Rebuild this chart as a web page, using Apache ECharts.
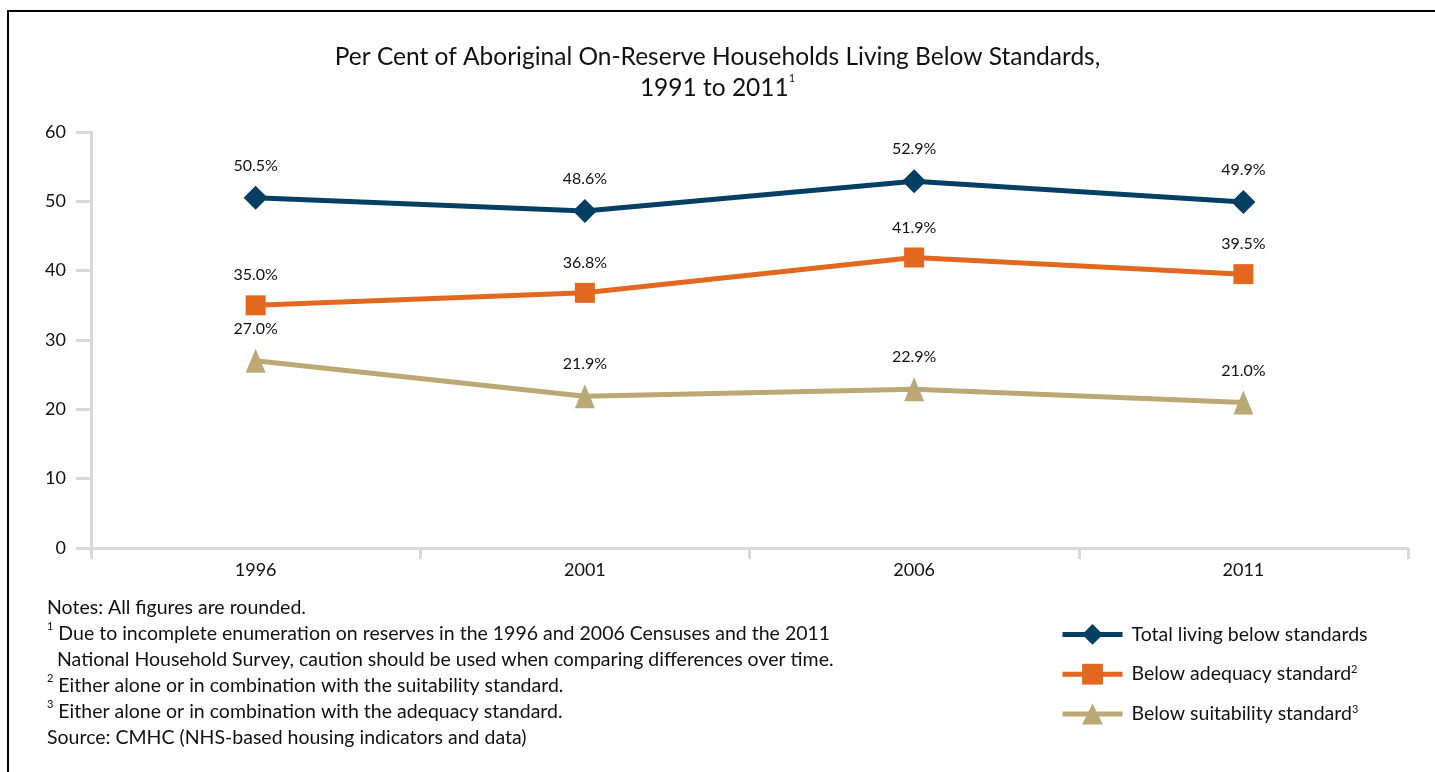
<!DOCTYPE html>
<html><head><meta charset="utf-8">
<script src="https://cdn.jsdelivr.net/npm/echarts@6/dist/echarts.min.js"></script>
<style>html,body{margin:0;padding:0;background:#fff;}#c{width:1435px;height:772px;}</style>
</head><body><div id="c"></div>
<script>
const years = ['1996', '2001', '2006', '2011'];
const totalBelow = [50.5, 48.6, 52.9, 49.9];
const belowAdequacy = [35.0, 36.8, 41.9, 39.5];
const belowSuitability = [27.0, 21.9, 22.9, 21.0];
const yTicks = [0, 10, 20, 30, 40, 50, 60];
const seriesNames = ['Total living below standards', 'Below adequacy standard', 'Below suitability standard'];
const seriesSup = ['', '2', '3'];

const FONT = 'Lato, "Open Sans", sans-serif';
const colors = ['#023F62', '#E2681F', '#BBA874'];
const symbols = ['diamond', 'rect', 'triangle'];
const symbolSizes = [[24, 24], [20, 20], [20, 24]];

const chart = echarts.init(document.getElementById('c'));
const dataSets = [totalBelow, belowAdequacy, belowSuitability];

const notes = [
  [{t:'Notes: All figures are rounded.'}],
  [{sup:'1'}, {t:' Due to incomplete enumeration on reserves in the 1996 and 2006 Censuses and the 2011'}],
  [{t:'  National Household Survey, caution should be used when comparing differences over time.'}],
  [{sup:'2'}, {t:' Either alone or in combination with the suitability standard.'}],
  [{sup:'3'}, {t:' Either alone or in combination with the adequacy standard.'}],
  [{t:'Source: CMHC (NHS-based housing indicators and data)'}]
];
const noteText = notes.map(line => line.map(p => p.sup ? '{s|' + p.sup + '}' : '{n|' + p.t + '}').join('')).join('\n');

chart.setOption({
  animation: false,
  backgroundColor: '#fff',
  title: {
    text: 'Per Cent of Aboriginal On-Reserve Households Living Below Standards,\n1991 to 2011{s|1}',
    left: 'center', top: 37,
    textStyle: {
      fontFamily: FONT, fontSize: 24.5, fontWeight: 'normal', color: '#111', lineHeight: 31,
      rich: { s: { fontFamily: FONT, fontSize: 11, verticalAlign: 'top', color: '#111', lineHeight: 31, padding: [0,0,12,0] } }
    }
  },
  grid: { left: 91, right: 27, top: 132, bottom: 224 },
  xAxis: {
    type: 'category', data: years, boundaryGap: true,
    axisLine: { lineStyle: { color: '#d9d9d9', width: 3 } },
    axisTick: { show: true, length: 11, alignWithLabel: false, lineStyle: { color: '#d9d9d9', width: 3 } },
    axisLabel: { fontFamily: FONT, fontSize: 18, color: '#111', margin: 13 },
    splitLine: { show: false }
  },
  yAxis: {
    type: 'value', min: 0, max: 60, interval: 10,
    axisLine: { show: true, lineStyle: { color: '#d9d9d9', width: 3 } },
    axisTick: { show: true, length: 15, lineStyle: { color: '#d9d9d9', width: 3 } },
    axisLabel: { fontFamily: FONT, fontSize: 18, color: '#111', margin: 25,
      formatter: v => yTicks.includes(v) ? String(v) : '' },
    splitLine: { show: false }
  },
  legend: {
    orient: 'vertical', left: 1055, top: 619, itemGap: 19, itemWidth: 60, itemHeight: 26,
    data: seriesNames,
    lineStyle: { width: 5 },
    formatter: name => {
      const i = seriesNames.indexOf(name);
      return '{n|' + name + '}' + (seriesSup[i] ? '{s|' + seriesSup[i] + '}' : '');
    },
    textStyle: {
      fontFamily: FONT, fontSize: 19.5, color: '#111', padding: [0,0,0,4],
      rich: {
        n: { fontFamily: FONT, fontSize: 19.5, color: '#111' },
        s: { fontFamily: FONT, fontSize: 11, color: '#111', verticalAlign: 'top', padding: [0,0,9,0] }
      }
    }
  },
  graphic: [
    { type: 'line', shape: { x1: 7, y1: 11, x2: 1435, y2: 11 }, style: { stroke: '#000', lineWidth: 2 } },
    { type: 'line', shape: { x1: 8, y1: 11, x2: 8, y2: 772 }, style: { stroke: '#000', lineWidth: 2 } },
    { type: 'text', left: 47, top: 595, style: {
      text: noteText, fontFamily: FONT, fontSize: 19.5, lineHeight: 26, fill: '#111',
      rich: {
        n: { fontFamily: FONT, fontSize: 19.5, lineHeight: 26, fill: '#111' },
        s: { fontFamily: FONT, fontSize: 11, lineHeight: 26, fill: '#111', verticalAlign: 'top', padding: [0,0,8,0] }
      }
    } }
  ],
  series: dataSets.map((d, i) => ({
    name: seriesNames[i], type: 'line', data: d,
    symbol: symbols[i], symbolSize: symbolSizes[i],
    lineStyle: { color: colors[i], width: 5 },
    itemStyle: { color: colors[i] },
    label: { show: true, position: 'top', distance: 12, fontFamily: FONT, fontSize: 16, color: '#111',
      formatter: p => p.value.toFixed(1) + '%' }
  }))
});
</script></body></html>
